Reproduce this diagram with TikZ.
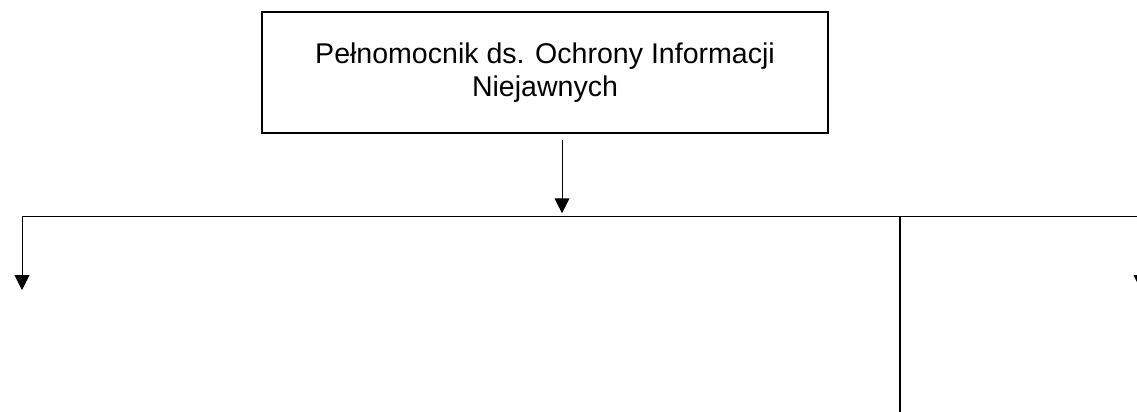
\documentclass[tikz,border=0pt]{standalone}
\usepackage{fontspec}
\setmainfont{Liberation Sans}
\usetikzlibrary{positioning, arrows.meta}

\begin{document}
\begin{tikzpicture}[
    x=0.025cm, y=-0.025cm,
    headbox/.style={
      draw=black, line width=1.4pt, rectangle, align=center,
      font=\fontsize{20.3}{23.5}\selectfont,
      minimum width=14.15cm, minimum height=3.02cm,
    },
    branch/.style={-{Triangle[length=10.5pt, width=10.5pt]}, line width=0.7pt},
    link/.style={line width=0.7pt},
    divider/.style={line width=1.3pt},
]
\useasboundingbox (0,0) rectangle (1137,412);

% Head of the chart
\node[headbox] (head) at (545,72.5) {Pełnomocnik ds. Ochrony Informacji\\Niejawnych};

% Bus line
\coordinate (busL) at (22,216);
\coordinate (busR) at (1140,216);
\coordinate (busM) at (562,216);
\coordinate (busD) at (900,216);
\coordinate (divEnd) at (900,412);
\coordinate (leftEnd) at (22,290);
\coordinate (rightTop) at (1141,216);
\coordinate (rightEnd) at (1141,290);

\draw[branch] ([yshift=-4pt]head.south -| busM) -- ([yshift=2pt]busM);
\draw[link] (busL) -- (busR);
\draw[branch] (busL) -- (leftEnd);
\draw[divider] (busD) -- (divEnd);
\draw[branch] (rightTop) -- (rightEnd);
\end{tikzpicture}
\end{document}
